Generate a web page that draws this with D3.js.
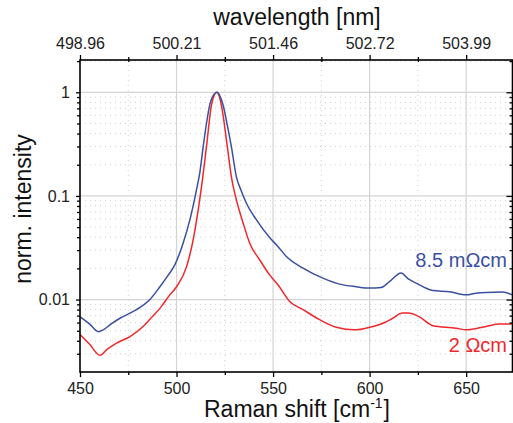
<!DOCTYPE html>
<html>
<head>
<meta charset="utf-8">
<script src="https://cdn.jsdelivr.net/npm/d3@7"></script>
<style>
  body { margin: 0; background: #fff; }
  svg { display: block; font-family: "Liberation Sans", Arial, sans-serif; }
</style>
</head>
<body>
<div id="chart"></div>
<script>
// Raman spectra, normalised, log scale

var shiftHigh = [450, 455, 459.5, 462, 466, 470.7, 475.9, 479.3, 486.2, 491.4, 495.5, 499.1, 503.4,
	506.9, 510.3, 512.1, 513.8, 515.5, 517.2, 519.3, 521, 522.5, 524.1, 526.3, 528.4, 531, 533.5, 536.2,
	541.4, 548.3, 552.6, 556.9, 565.5, 575.8, 584.5, 593.1, 600, 606, 610.3, 616.3, 620, 624.1, 628,
	632.7, 641.4, 650, 655, 660.3, 668.9, 674];
var intHigh = [0.0068, 0.0058, 0.0049, 0.0051, 0.0058, 0.0066, 0.0074, 0.0080, 0.0100, 0.0133,
	0.0170, 0.0216, 0.035, 0.0587, 0.114, 0.17, 0.299, 0.50, 0.755, 0.95, 1.0, 0.92, 0.755, 0.48, 0.299,
	0.153, 0.112, 0.085, 0.0587, 0.0395, 0.0324, 0.026, 0.0201, 0.0161, 0.0141, 0.0133, 0.0129, 0.0131,
	0.0149, 0.018, 0.0158, 0.0144, 0.0132, 0.0122, 0.0119, 0.0111, 0.0115, 0.0117, 0.0118, 0.0111];

var shiftLow = [450, 455, 460.3, 464, 468.9, 475.9, 482.7, 487, 492.2, 496, 500, 505.2, 508.6, 511.2,
	513.4, 515.5, 518.1, 519.5, 520.8, 522, 523.2, 526.3, 528.4, 531, 534.5, 537.9, 543.1, 548.3, 552.6,
	558.6, 565.5, 574.1, 582.8, 592.2, 600, 606.9, 612, 617, 620, 625.8, 632.7, 644.8, 650, 660.3,
	667.2, 674];
var intLow = [0.0046, 0.0037, 0.0029, 0.0033, 0.0038, 0.0044, 0.0055, 0.0067, 0.0086, 0.0108, 0.0133,
	0.0208, 0.0377, 0.073, 0.143, 0.299, 0.755, 0.94, 1.0, 0.93, 0.755, 0.299, 0.153, 0.0915, 0.0546,
	0.035, 0.0241, 0.0172, 0.0138, 0.0096, 0.0080, 0.0064, 0.0054, 0.0051, 0.0054, 0.0059, 0.0066,
	0.0074, 0.0074, 0.0068, 0.0056, 0.0053, 0.0051, 0.0055, 0.0058, 0.0058];

var xTicks = [450, 500, 550, 600, 650];
var xMinor = [475, 525, 575, 625];
var wlLabels = ["498.96", "500.21", "501.46", "502.72", "503.99"];
var yTicks = [0.01, 0.1, 1];
var yTickLabels = ["0.01", "0.1", "1"];
var seriesNames = ["8.5 m\u03A9cm", "2 \u03A9cm"];

var width = 513,
	height = 423;
var plotL = 80, plotR = 512.5, plotT = 60, plotB = 372;

var blue = "#3a50a2", red = "#f0282d";

var x = d3.scaleLinear().domain([450, 674]).range([plotL, plotR]);
var y = d3.scaleLog().domain([0.002, 2.05]).range([plotB, plotT]);

var svg = d3.select("#chart").append("svg")
	.attr("width", width)
	.attr("height", height);

// minor log positions
var yMinor = [];
[0.001, 0.01, 0.1, 1].forEach(function(dec) {
	for (var k = 2; k <= 9; k++) {
		var v = dec * k;
		if (v > y.domain()[0] && v < y.domain()[1]) yMinor.push(v);
	}
});

var grid = svg.append("g");

grid.selectAll(".ymin").data(yMinor).enter().append("line")
	.attr("x1", plotL).attr("x2", plotR)
	.attr("y1", function(d) { return y(d); }).attr("y2", function(d) { return y(d); })
	.attr("stroke", "#cfcfcf").attr("stroke-dasharray", "1,4");

grid.selectAll(".xmin").data(xMinor).enter().append("line")
	.attr("y1", plotT).attr("y2", plotB)
	.attr("x1", function(d) { return x(d); }).attr("x2", function(d) { return x(d); })
	.attr("stroke", "#cfcfcf").attr("stroke-dasharray", "1,4");

grid.selectAll(".ymaj").data(yTicks).enter().append("line")
	.attr("x1", plotL).attr("x2", plotR)
	.attr("y1", function(d) { return y(d); }).attr("y2", function(d) { return y(d); })
	.attr("stroke", "#d4d4d4").attr("stroke-width", 1.2);

grid.selectAll(".xmaj").data(xTicks.slice(1)).enter().append("line")
	.attr("y1", plotT).attr("y2", plotB)
	.attr("x1", function(d) { return x(d); }).attr("x2", function(d) { return x(d); })
	.attr("stroke", "#d4d4d4").attr("stroke-width", 1.2);

// spectra
var line = d3.line()
	.x(function(d) { return x(d[0]); })
	.y(function(d) { return y(d[1]); })
	.curve(d3.curveMonotoneX);

svg.append("path")
	.datum(d3.zip(shiftLow, intLow))
	.attr("d", line)
	.attr("fill", "none").attr("stroke", red).attr("stroke-width", 1.5);

svg.append("path")
	.datum(d3.zip(shiftHigh, intHigh))
	.attr("d", line)
	.attr("fill", "none").attr("stroke", blue).attr("stroke-width", 1.5);

// axes
function style(g) {
	g.select(".domain").remove();
	g.selectAll("line").attr("stroke", "#000").attr("stroke-width", 1.3);
	g.selectAll("text").attr("fill", "#222").style("font-size", "16px");
}

svg.append("g")
	.attr("transform", "translate(0," + plotB + ")")
	.call(d3.axisBottom(x).tickValues(xTicks).tickSize(5).tickPadding(6).tickFormat(d3.format("d")))
	.call(style);
svg.append("g")
	.attr("transform", "translate(0," + plotB + ")")
	.call(d3.axisBottom(x).tickValues(xMinor).tickSize(3).tickFormat(""))
	.call(style);

svg.append("g")
	.attr("transform", "translate(0," + plotT + ")")
	.call(d3.axisTop(x).tickValues(xTicks).tickSize(5).tickPadding(6)
		.tickFormat(function(d, i) { return wlLabels[i]; }))
	.call(style);
svg.append("g")
	.attr("transform", "translate(0," + (plotT + 2) + ")")
	.call(d3.axisTop(x).tickValues(xMinor).tickSize(5).tickFormat(""))
	.call(style);

svg.append("g")
	.attr("transform", "translate(" + plotL + ",0)")
	.call(d3.axisLeft(y).tickValues(yTicks).tickSize(4).tickPadding(6)
		.tickFormat(function(d, i) { return yTickLabels[i]; }))
	.call(style);
svg.append("g")
	.attr("transform", "translate(" + plotL + ",0)")
	.call(d3.axisLeft(y).tickValues(yMinor).tickSize(3).tickFormat(""))
	.call(style);

svg.append("g")
	.attr("transform", "translate(" + plotR + ",0)")
	.call(d3.axisLeft(y).tickValues(yTicks).tickSize(6).tickFormat(""))
	.call(style);
svg.append("g")
	.attr("transform", "translate(" + plotR + ",0)")
	.call(d3.axisLeft(y).tickValues(yMinor).tickSize(3).tickFormat(""))
	.call(style);

// frame
svg.append("rect")
	.attr("x", plotL).attr("y", plotT)
	.attr("width", plotR - plotL).attr("height", plotB - plotT)
	.attr("fill", "none").attr("stroke", "#000").attr("stroke-width", 1.6);

// titles
svg.append("text")
	.attr("x", 297).attr("y", 25)
	.attr("text-anchor", "middle")
	.style("font-size", "23px").attr("fill", "#111")
	.text("wavelength [nm]");

var xt = svg.append("text")
	.attr("x", 297).attr("y", 417)
	.attr("text-anchor", "middle")
	.style("font-size", "23px").attr("fill", "#111");
xt.append("tspan").text("Raman shift [cm");
xt.append("tspan").attr("dy", -9).style("font-size", "14px").text("-1");
xt.append("tspan").attr("dy", 9).attr("dx", 1).text("]");

svg.append("text")
	.attr("transform", "translate(31," + 209 + ") rotate(-90)")
	.attr("text-anchor", "middle")
	.style("font-size", "23px").attr("fill", "#111")
	.text("norm. intensity");

// labels
svg.append("text")
	.attr("x", 507).attr("y", 267)
	.attr("text-anchor", "end")
	.style("font-size", "20px").attr("fill", blue)
	.text(seriesNames[0]);

svg.append("text")
	.attr("x", 507).attr("y", 352)
	.attr("text-anchor", "end")
	.style("font-size", "20px").attr("fill", red)
	.text(seriesNames[1]);
</script>
</body>
</html>
